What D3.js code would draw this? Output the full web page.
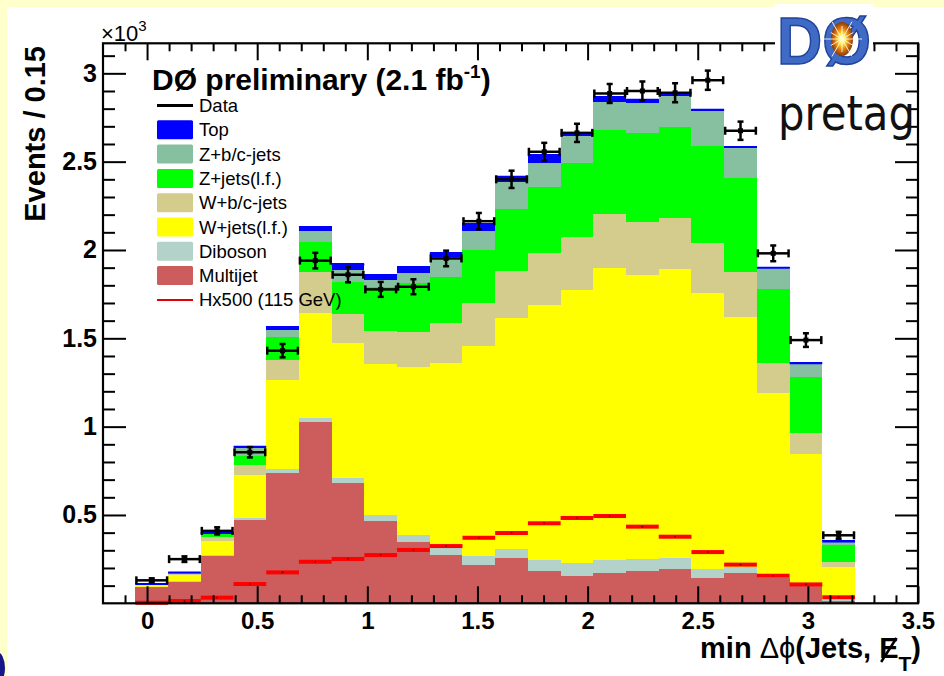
<!DOCTYPE html>
<html>
<head>
<meta charset="utf-8">
<script src="https://cdn.jsdelivr.net/npm/d3@7/dist/d3.min.js"></script>
<style>
  html, body { margin: 0; padding: 0; background: #ffffcc; }
  svg { display: block; font-family: "Liberation Sans", Arial, Helvetica, sans-serif; }
</style>
</head>
<body>
<div id="chart"></div>
<script>
// histogram binning: 22 bins, "Events / 0.15"
const binStart = -0.053;
const binWidth = 0.1485;

// stacked backgrounds, bottom to top (events per bin)
const multijet = [90, 122, 270, 471, 739, 1024, 679, 466, 345, 273, 217, 255, 185, 156, 173, 185, 194, 145, 170, 141, 113, 15];
const diboson  = [2, 3, 5, 10, 19, 25, 28, 34, 42, 38, 51, 52, 60, 70, 72, 66, 64, 49, 37, 2, 2, 2];
const wjetsLF  = [12, 38, 78, 245, 506, 594, 764, 854, 952, 1047, 1188, 1306, 1443, 1547, 1651, 1607, 1632, 1560, 1415, 1045, 730, 190];
const wbcjets  = [3, 5, 24, 57, 113, 234, 166, 189, 198, 230, 245, 269, 293, 298, 305, 302, 289, 287, 251, 174, 117, 28];
const zjetsLF  = [5, 8, 19, 51, 128, 169, 183, 249, 274, 257, 298, 348, 377, 419, 478, 500, 518, 549, 532, 415, 317, 95];
const zbcjets  = [2, 3, 5, 43, 42, 59, 66, 38, 57, 113, 110, 155, 136, 155, 160, 173, 176, 198, 173, 123, 80, 24];
const topQuark = [1, 1, 3, 15, 22, 31, 38, 34, 41, 28, 41, 35, 47, 18, 32, 23, 22, 11, 10, 5, 5, 2];

const dataCounts = [130, 250, 410, 855, 1430, 1940, 1860, 1777, 1792, 1952, 2163, 2400, 2556, 2663, 2886, 2900, 2890, 2961, 2675, 1981, 1490, 385];
const higgsX500  = [3, 13, 32, 109, 175, 235, 251, 273, 302, 324, 371, 398, 453, 483, 494, 434, 377, 290, 219, 156, 107, 34];

const layerKeys   = ["Multijet", "Diboson", "W+jets(l.f.)", "W+b/c-jets", "Z+jets(l.f.)", "Z+b/c-jets", "Top"];
const layerValues = [multijet, diboson, wjetsLF, wbcjets, zjetsLF, zbcjets, topQuark];
const layerColors = ["#cd5c5c", "#b2d2ca", "#ffff00", "#d4cc8c", "#00ff00", "#86c0a0", "#0000ff"];

const xMajorTicks = [0, 0.5, 1, 1.5, 2, 2.5, 3, 3.5];
const yMajorTicks = [500, 1000, 1500, 2000, 2500, 3000];

const width = 944, height = 676;
const svg = d3.select("#chart").append("svg")
  .attr("width", width).attr("height", height)
  .attr("viewBox", `0 0 ${width} ${height}`);

// slide background
svg.append("rect").attr("width", width).attr("height", height).attr("fill", "#ffffcc");
svg.append("rect").attr("x", 7).attr("y", 7).attr("width", width - 7).attr("height", height - 7).attr("fill", "#fff");
svg.append("ellipse").attr("cx", -3).attr("cy", 668).attr("rx", 8).attr("ry", 16).attr("fill", "#16168a");

const frame = { left: 103, right: 918, top: 43.3, bottom: 603.3 };
const x = d3.scaleLinear().domain([-0.2, 3.5]).range([frame.left, frame.right]);
const y = d3.scaleLinear().domain([0, 3170]).range([frame.bottom, frame.top]);

const bins = dataCounts.map((d, i) => {
  const row = { lo: binStart + i * binWidth, hi: binStart + (i + 1) * binWidth, data: d, higgs: higgsX500[i] };
  layerKeys.forEach((k, j) => { row[k] = layerValues[j][i]; });
  return row;
});

const stack = d3.stack().keys(layerKeys)(bins);

const plot = svg.append("g");
plot.selectAll("g.layer").data(stack).join("g")
  .attr("class", "layer")
  .attr("fill", (d, i) => layerColors[i])
  .selectAll("rect").data(d => d).join("rect")
    .attr("shape-rendering", "crispEdges")
    .attr("x", d => x(d.data.lo))
    .attr("width", d => x(d.data.hi) - x(d.data.lo))
    .attr("y", d => y(d[1]))
    .attr("height", d => y(d[0]) - y(d[1]));

// outline of the top histogram
const topLayer = stack[stack.length - 1];
plot.selectAll("line.topline").data(topLayer).join("line")
  .attr("class", "topline")
  .attr("x1", d => x(d.data.lo)).attr("x2", d => x(d.data.hi))
  .attr("y1", d => y(d[1]) + 1).attr("y2", d => y(d[1]) + 1)
  .attr("stroke", "#0000ff").attr("stroke-width", 2);

// signal Hx500
const sig = plot.selectAll("g.sig").data(bins).join("g").attr("class", "sig");
sig.append("rect")
  .attr("x", d => x(d.lo)).attr("width", d => x(d.hi) - x(d.lo))
  .attr("y", d => y(d.higgs) - 2).attr("height", 4)
  .attr("fill", "#ff0000");
sig.append("rect")
  .attr("x", d => x((d.lo + d.hi) / 2) - 0.8).attr("width", 1.6)
  .attr("y", d => y(d.higgs) - 0.8).attr("height", 1.6)
  .attr("fill", "#600");

// data points with errors
const pts = plot.selectAll("g.pt").data(bins).join("g").attr("class", "pt")
  .attr("stroke", "#000").attr("stroke-width", 2.5).attr("fill", "none");
pts.append("line")
  .attr("x1", d => x(d.lo) + 1).attr("x2", d => x(d.hi) - 1)
  .attr("y1", d => y(d.data)).attr("y2", d => y(d.data));
pts.append("line")
  .attr("x1", d => x((d.lo + d.hi) / 2)).attr("x2", d => x((d.lo + d.hi) / 2))
  .attr("y1", d => y(d.data - Math.sqrt(d.data))).attr("y2", d => y(d.data + Math.sqrt(d.data)));
pts.each(function(d) {
  const g = d3.select(this);
  const cx = x((d.lo + d.hi) / 2), cy = y(d.data);
  [x(d.lo) + 1, x(d.hi) - 1].forEach(ex => {
    g.append("line").attr("x1", ex).attr("x2", ex).attr("y1", cy - 4).attr("y2", cy + 4);
  });
  [y(d.data - Math.sqrt(d.data)), y(d.data + Math.sqrt(d.data))].forEach(ey => {
    g.append("line").attr("x1", cx - 3).attr("x2", cx + 3).attr("y1", ey).attr("y2", ey);
  });
  g.append("rect").attr("x", cx - 2.5).attr("y", cy - 2.5).attr("width", 5).attr("height", 5)
    .attr("fill", "#000").attr("stroke", "none");
});

// axes
const minorX = d3.range(-1, 36).map(v => v / 10).filter(v => Math.abs(v * 2 - Math.round(v * 2)) > 1e-6);
const minorY = d3.range(1, 32).map(v => v * 100).filter(v => v % 500 !== 0);

function styleAxis(g) {
  g.select(".domain").remove();
  g.selectAll(".tick line").attr("stroke", "#000").attr("stroke-width", 2);
  g.selectAll(".tick text").attr("fill", "#000").attr("font-weight", "bold")
    .attr("font-family", "'Liberation Sans', Arial, sans-serif");
}

const xfmt = d => d3.format("")(d);
svg.append("g").attr("transform", `translate(0,${frame.bottom})`)
  .call(d3.axisBottom(x).tickValues(xMajorTicks).tickSize(-17).tickPadding(9).tickFormat(xfmt))
  .call(styleAxis).call(g => g.selectAll(".tick text").attr("font-size", 24));
svg.append("g").attr("transform", `translate(0,${frame.bottom})`)
  .call(d3.axisBottom(x).tickValues(minorX).tickSize(-8).tickFormat(""))
  .call(styleAxis);
svg.append("g").attr("transform", `translate(0,${frame.top})`)
  .call(d3.axisTop(x).tickValues(xMajorTicks).tickSize(-17).tickFormat(""))
  .call(styleAxis);
svg.append("g").attr("transform", `translate(0,${frame.top})`)
  .call(d3.axisTop(x).tickValues(minorX).tickSize(-8).tickFormat(""))
  .call(styleAxis);

svg.append("g").attr("transform", `translate(${frame.left},0)`)
  .call(d3.axisLeft(y).tickValues(yMajorTicks).tickSize(-23).tickPadding(6).tickFormat(d => d / 1000))
  .call(styleAxis).call(g => g.selectAll(".tick text").attr("font-size", 25));
svg.append("g").attr("transform", `translate(${frame.left},0)`)
  .call(d3.axisLeft(y).tickValues(minorY).tickSize(-12).tickFormat(""))
  .call(styleAxis);
svg.append("g").attr("transform", `translate(${frame.right},0)`)
  .call(d3.axisRight(y).tickValues(yMajorTicks).tickSize(-23).tickFormat(""))
  .call(styleAxis);
svg.append("g").attr("transform", `translate(${frame.right},0)`)
  .call(d3.axisRight(y).tickValues(minorY).tickSize(-12).tickFormat(""))
  .call(styleAxis);

svg.append("rect")
  .attr("x", frame.left).attr("y", frame.top)
  .attr("width", frame.right - frame.left).attr("height", frame.bottom - frame.top)
  .attr("fill", "none").attr("stroke", "#000").attr("stroke-width", 2.2);

// axis titles
svg.append("text")
  .attr("transform", `translate(45,46) rotate(-90)`)
  .attr("text-anchor", "end").attr("font-weight", "bold").attr("font-size", 29)
  .text("Events / 0.15");

const mult = svg.append("text").attr("x", 101).attr("y", 41).attr("font-size", 22);
mult.append("tspan").text("\u00d710");
mult.append("tspan").attr("font-size", 15).attr("dy", -10).text("3");

const xt = svg.append("text").attr("x", 921).attr("y", 658)
  .attr("text-anchor", "end").attr("font-weight", "bold").attr("font-size", 29);
xt.append("tspan").text("min ");
xt.append("tspan").attr("font-weight", "normal").text("\u0394\u03d5");
xt.append("tspan").text("(Jets, E");
xt.append("tspan").attr("font-size", 21).attr("dy", 13).text("T");
xt.append("tspan").attr("dy", -13).text(")");
{
  // slash through E (missing transverse energy)
  const node = xt.node();
  const full = node.textContent;
  const ei = full.lastIndexOf("E");
  const bb = node.getExtentOfChar(ei);
  svg.append("line")
    .attr("x1", bb.x + 2).attr("y1", bb.y + bb.height - 2)
    .attr("x2", bb.x + bb.width - 2).attr("y2", bb.y + 6)
    .attr("stroke", "#000").attr("stroke-width", 2.5);
}

// title
const title = svg.append("text").attr("x", 152).attr("y", 90).attr("font-weight", "bold").attr("font-size", 30);
title.append("tspan").text("D\u00d8 preliminary (2.1 fb");
title.append("tspan").attr("font-size", 19).attr("dy", -12).text("-1");
title.append("tspan").attr("dy", 12).text(")");

// legend
const legendItems = ["Data", "Top", "Z+b/c-jets", "Z+jets(l.f.)", "W+b/c-jets", "W+jets(l.f.)", "Diboson", "Multijet", "Hx500 (115 GeV)"];
const legend = svg.append("g").attr("transform", "translate(157,105.5)");
legendItems.forEach((name, i) => {
  const g = legend.append("g").attr("transform", `translate(0,${i * 24.3})`);
  const li = layerKeys.indexOf(name);
  if (name === "Data") {
    g.append("line").attr("x1", 0).attr("x2", 36).attr("stroke", "#000").attr("stroke-width", 3);
  } else if (li < 0) {
    g.append("line").attr("x1", 0).attr("x2", 36).attr("stroke", "#e00000").attr("stroke-width", 2);
  } else {
    g.append("rect").attr("x", 0).attr("y", -9.5).attr("width", 36).attr("height", 19)
      .attr("rx", 1.5).attr("fill", layerColors[li]);
  }
  g.append("text").attr("x", 42).attr("y", 6.5).attr("font-size", 18.5).attr("fill", "#000").text(name);
});

// pretag label
svg.append("text").attr("x", 778).attr("y", 130)
  .attr("font-family", "'DejaVu Sans', sans-serif").attr("font-size", 48)
  .attr("textLength", 137).attr("lengthAdjust", "spacingAndGlyphs")
  .attr("fill", "#111").text("pretag");

// experiment logo
const logo = svg.append("g");
logo.append("rect").attr("x", 775).attr("y", 4).attr("width", 98).attr("height", 68).attr("fill", "#fff");
logo.append("text").attr("x", 777).attr("y", 64)
  .attr("font-size", 66).attr("font-weight", "bold")
  .attr("textLength", 94).attr("lengthAdjust", "spacingAndGlyphs")
  .attr("fill", "#3f6ac6").attr("stroke", "#22439a").attr("stroke-width", 1.5)
  .text("D\u00d8");
const defs = svg.append("defs");
const rg = defs.append("radialGradient").attr("id", "burst");
rg.append("stop").attr("offset", "0%").attr("stop-color", "#ffffff");
rg.append("stop").attr("offset", "30%").attr("stop-color", "#ffee44");
rg.append("stop").attr("offset", "65%").attr("stop-color", "#e07a10");
rg.append("stop").attr("offset", "100%").attr("stop-color", "#8a3a08");
logo.append("ellipse").attr("cx", 842).attr("cy", 39).attr("rx", 11).attr("ry", 17).attr("fill", "url(#burst)");
d3.range(0, 360, 30).forEach(a => {
  const r = (a * Math.PI) / 180, len = a % 60 === 0 ? 20 : 13;
  logo.append("line")
    .attr("x1", 842).attr("y1", 39)
    .attr("x2", 842 + Math.cos(r) * len).attr("y2", 39 + Math.sin(r) * len)
    .attr("stroke", "#fffbe0").attr("stroke-width", 1).attr("opacity", 0.9);
});
</script>
</body>
</html>
